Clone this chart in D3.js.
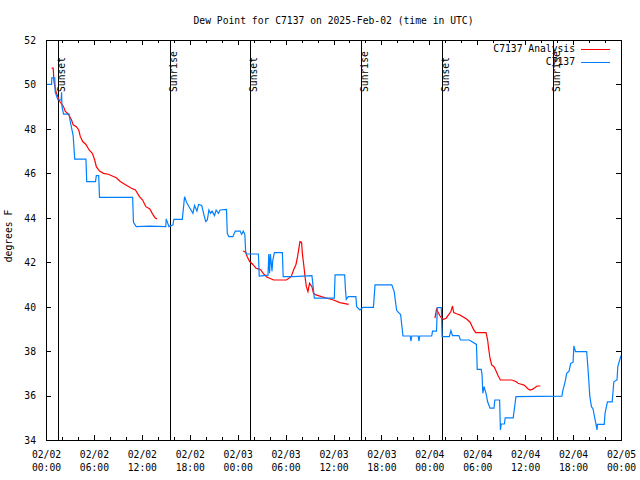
<!DOCTYPE html>
<html>
<head>
<meta charset="utf-8">
<script src="https://cdn.jsdelivr.net/npm/d3@7"></script>
<style>
  html, body { margin: 0; padding: 0; background: #fff; }
  svg { display: block; }
  text { font-family: "DejaVu Sans Mono", monospace; font-size: 9.7px; fill: #000; }
</style>
</head>
<body>
<svg id="chart" width="640" height="480"></svg>
<script>
// ---------------- data ----------------
const chartTitle = "Dew Point for C7137 on 2025-Feb-02 (time in UTC)";
const yLabel = "degrees F";
const startDate = "2025-02-02T00:00:00Z";
const endDate = "2025-02-05T00:00:00Z";
const yTicks = [34, 36, 38, 40, 42, 44, 46, 48, 50, 52];
const seriesNames = ["C7137 Analysis", "C7137"];
const seriesColors = ["#ff0000", "#0080ff"];

// Sun events: hours after start
const sunHours = [1.5, 15.5, 25.5, 39.4, 49.6, 63.5];
const sunLabels = ["Sunset", "Sunrise", "Sunset", "Sunrise", "Sunset", "Sunrise"];

// Observations (C7137): hours after start, degrees F
const obsHours = [0.08,0.7,0.72,1.1,1.15,1.5,1.9,1.95,2.0,2.2,2.9,3.0,3.4,3.6,5.0,5.1,6.2,6.3,6.6,6.7,
  10.85,10.95,11.3,13.0,15.0,15.05,15.4,15.9,16.0,17.07,17.35,17.6,18.0,18.4,18.6,18.9,19.1,19.5,19.8,20.0,
  20.2,20.4,20.6,20.8,21.1,21.3,21.6,21.8,22.6,22.7,22.9,23.4,23.7,24.3,24.5,24.7,24.9,25.0,25.1,26.6,
  26.7,27.3,27.8,27.9,28.0,28.1,28.3,28.4,28.6,29.6,29.7,31.0,33.3,33.45,33.6,36.1,36.2,37.4,37.5,37.6,
  37.85,38.8,38.9,39.3,39.7,41.0,41.2,43.3,43.6,43.9,44.1,44.4,44.7,45.6,45.7,45.8,46.6,46.7,46.8,48.3,
  48.4,48.9,49.0,49.5,49.6,50.5,50.7,50.9,51.7,51.9,53.0,53.9,54.0,54.5,54.6,54.7,54.85,55.1,55.3,55.6,
  56.1,56.2,56.8,56.9,57.0,57.4,57.5,58.5,58.85,64.6,64.7,65.0,65.2,65.5,65.7,66.0,66.1,66.3,67.7,67.85,
  68.1,68.3,68.5,68.7,69.0,69.05,69.9,70.0,70.3,70.9,71.1,71.5,71.6,71.9,72.0];
const obsValues = [50.0,50.0,50.3,50.3,49.65,49.3,49.3,49.65,49.0,48.66,48.66,48.4,47.7,46.64,46.64,45.63,45.63,45.9,45.9,44.92,
  44.92,43.8,43.6,43.62,43.6,43.95,43.6,43.68,43.93,43.93,44.95,44.7,44.44,44.2,44.55,44.3,44.6,44.55,44.1,43.83,
  43.9,44.35,44.2,44.3,44.1,44.35,44.2,44.35,44.38,43.3,43.15,43.15,43.4,43.4,43.25,43.4,43.25,42.47,42.37,42.37,
  41.38,41.4,41.42,42.37,41.5,42.37,41.6,42.1,42.43,42.43,41.35,41.35,41.4,40.9,40.38,40.38,41.43,41.43,40.75,40.33,
  40.45,40.45,40.0,39.85,39.97,39.97,40.98,40.98,40.68,39.85,39.75,39.65,38.68,38.68,38.45,38.68,38.68,38.45,38.68,38.68,
  38.9,38.9,39.96,39.96,38.65,38.65,38.92,38.7,38.7,38.5,38.5,38.3,37.18,37.18,36.93,36.1,36.4,36.1,35.72,35.43,
  35.43,35.8,35.8,34.45,34.72,34.72,35.0,35.0,35.95,35.97,36.2,36.62,37.0,37.1,37.45,37.5,38.23,37.98,37.98,37.3,
  35.95,35.5,35.4,35.02,34.45,34.7,34.7,35.2,35.72,35.72,36.62,36.7,37.3,37.68,37.8];

// Analysis (C7137 Analysis): hours after start, degrees F; null = gap
const anaHours = [0.7,0.9,1.0,1.25,1.55,1.75,2.0,2.2,2.4,2.8,3.2,3.4,3.8,4.1,4.3,4.6,5.0,5.4,5.8,6.1,
  6.3,6.7,7.2,7.8,8.8,9.3,9.9,10.7,11.2,11.7,12.1,12.5,13.0,13.3,13.65,13.9,
  19.0,
  24.7,25.0,25.2,25.5,25.9,26.3,26.6,26.9,27.2,27.6,28.0,28.5,30.1,30.7,31.0,31.3,31.5,31.8,32.0,
  32.1,32.3,32.45,32.6,32.8,33.0,33.3,33.5,33.8,34.5,35.2,36.0,36.8,37.9,
  43.0,
  48.7,48.9,49.1,49.3,49.55,49.8,50.1,50.4,50.7,50.9,51.05,51.4,51.8,52.2,52.7,53.1,53.3,53.5,53.8,55.1,
  55.3,55.45,55.6,55.8,56.1,56.3,56.6,56.9,58.3,58.5,58.9,59.1,59.4,59.8,60.1,60.3,60.6,60.9,61.2,61.5,61.9];
const anaValues = [50.73,50.73,50.13,49.67,49.38,49.22,49.1,49.0,48.8,48.66,48.4,48.18,48.1,47.95,47.65,47.43,47.3,47.05,46.9,46.6,
  46.3,46.1,46.0,45.96,45.8,45.63,45.5,45.33,45.25,44.95,44.8,44.5,44.4,44.2,44.0,43.95,
  null,
  42.5,42.45,42.25,42.03,41.9,41.73,41.7,41.65,41.5,41.35,41.28,41.2,41.2,41.35,41.65,41.9,42.25,42.93,42.9,
  42.4,41.8,41.3,40.9,40.68,41.05,40.9,40.6,40.53,40.45,40.38,40.3,40.18,40.1,
  null,
  39.48,39.88,39.75,39.6,39.48,39.43,39.48,39.63,39.78,40.03,39.73,39.68,39.63,39.55,39.43,39.3,39.15,39.0,38.83,38.83,
  38.5,38.05,37.68,37.38,37.3,37.15,36.9,36.7,36.7,36.68,36.62,36.55,36.52,36.48,36.4,36.32,36.25,36.28,36.35,36.43,36.43];

// ---------------- layout ----------------
const W = 640, H = 480;
const margin = { left: 46, right: 19, top: 40, bottom: 40 };
const x0 = margin.left, x1 = W - margin.right, y0 = margin.top, y1 = H - margin.bottom;

const svg = d3.select("#chart");
const t0 = new Date(startDate), t2 = new Date(endDate);
const hourMs = 3600 * 1000;
const toDate = h => new Date(t0.getTime() + h * hourMs);

const x = d3.scaleUtc().domain([t0, t2]).range([x0, x1]);
const y = d3.scaleLinear().domain([34, 52]).range([y1, y0]);

const majorTicks = d3.utcHour.every(6).range(t0, new Date(t2.getTime() + 1));
const minorTicks = d3.utcHour.every(2).range(t0, new Date(t2.getTime() + 1))
  .filter(d => d.getUTCHours() % 6 !== 0);

const fmtDate = d3.utcFormat("%m/%d");
const fmtTime = d3.utcFormat("%H:%M");

// Bottom axis (major, with labels)
const gB = svg.append("g").attr("transform", `translate(0,${y1})`)
  .call(d3.axisBottom(x).tickValues(majorTicks).tickSize(-5).tickPadding(12).tickFormat(() => ""));
gB.select(".domain").remove();
gB.selectAll(".tick").each(function(d) {
  const t = d3.select(this).select("text");
  t.text(null).attr("y", 0).attr("dy", null);
  t.append("tspan").attr("x", 0).attr("y", 18).text(fmtDate(d));
  t.append("tspan").attr("x", 0).attr("y", 31).text(fmtTime(d));
});
svg.append("g").attr("transform", `translate(0,${y1})`)
  .call(d3.axisBottom(x).tickValues(minorTicks).tickSize(-3).tickFormat(""))
  .select(".domain").remove();
// Top mirror
svg.append("g").attr("transform", `translate(0,${y0})`)
  .call(d3.axisTop(x).tickValues(majorTicks).tickSize(-5).tickFormat(""))
  .select(".domain").remove();
svg.append("g").attr("transform", `translate(0,${y0})`)
  .call(d3.axisTop(x).tickValues(minorTicks).tickSize(-3).tickFormat(""))
  .select(".domain").remove();

// Left axis
const gL = svg.append("g").attr("transform", `translate(${x0},0)`)
  .call(d3.axisLeft(y).tickValues(yTicks).tickSize(-5).tickPadding(10).tickFormat(d3.format("d")));
gL.select(".domain").remove();
gL.selectAll(".tick text").attr("dy", "0.35em");
// Right mirror
svg.append("g").attr("transform", `translate(${x1},0)`)
  .call(d3.axisRight(y).tickValues(yTicks).tickSize(-5).tickFormat(""))
  .select(".domain").remove();

svg.selectAll(".tick line").attr("stroke", "#000").attr("shape-rendering", "crispEdges");
svg.selectAll(".tick text").attr("font-family", "DejaVu Sans Mono, monospace").attr("font-size", "9.7px").attr("fill", "#000");

// Sun lines
const sunG = svg.append("g");
sunHours.forEach((h, i) => {
  const sx = Math.round(x(toDate(h))) + 0.5;
  sunG.append("line").attr("x1", sx).attr("x2", sx).attr("y1", y0).attr("y2", y1)
    .attr("stroke", "#000").attr("stroke-width", 1).attr("shape-rendering", "crispEdges");
  sunG.append("text").attr("transform", `translate(${sx + 6},92) rotate(-90)`)
    .attr("text-anchor", "start").text(sunLabels[i]);
});

// Lines
const clip = svg.append("clipPath").attr("id", "clip").append("rect")
  .attr("x", x0).attr("y", y0).attr("width", x1 - x0).attr("height", y1 - y0);

const lineGen = d3.line()
  .defined(d => d[1] !== null)
  .x(d => x(toDate(d[0])))
  .y(d => y(d[1]));

const anaData = anaHours.map((h, i) => [h, anaValues[i]]);
const obsData = obsHours.map((h, i) => [h, obsValues[i]]);

svg.append("path").datum(anaData).attr("d", lineGen)
  .attr("fill", "none").attr("stroke", seriesColors[0]).attr("stroke-width", 1.2)
  .attr("clip-path", "url(#clip)");
svg.append("path").datum(obsData).attr("d", lineGen)
  .attr("fill", "none").attr("stroke", seriesColors[1]).attr("stroke-width", 1.2)
  .attr("clip-path", "url(#clip)");

// Frame
svg.append("rect").attr("x", x0 + 0.5).attr("y", y0 + 0.5)
  .attr("width", x1 - x0).attr("height", y1 - y0)
  .attr("fill", "none").attr("stroke", "#000").attr("shape-rendering", "crispEdges");

// Legend
const legY = [49, 62];
seriesNames.forEach((name, i) => {
  svg.append("text").attr("x", 575).attr("y", legY[i]).attr("dy", "0.35em")
    .attr("text-anchor", "end").text(name);
  svg.append("line").attr("x1", 581).attr("x2", 610).attr("y1", legY[i] + 0.5).attr("y2", legY[i] + 0.5)
    .attr("stroke", seriesColors[i]).attr("stroke-width", 1);
});

// Title and y label
svg.append("text").attr("x", (x0 + x1) / 2).attr("y", 24).attr("text-anchor", "middle").text(chartTitle);
svg.append("text").attr("transform", `translate(12,236) rotate(-90)`).attr("text-anchor", "middle").text(yLabel);
</script>
</body>
</html>
